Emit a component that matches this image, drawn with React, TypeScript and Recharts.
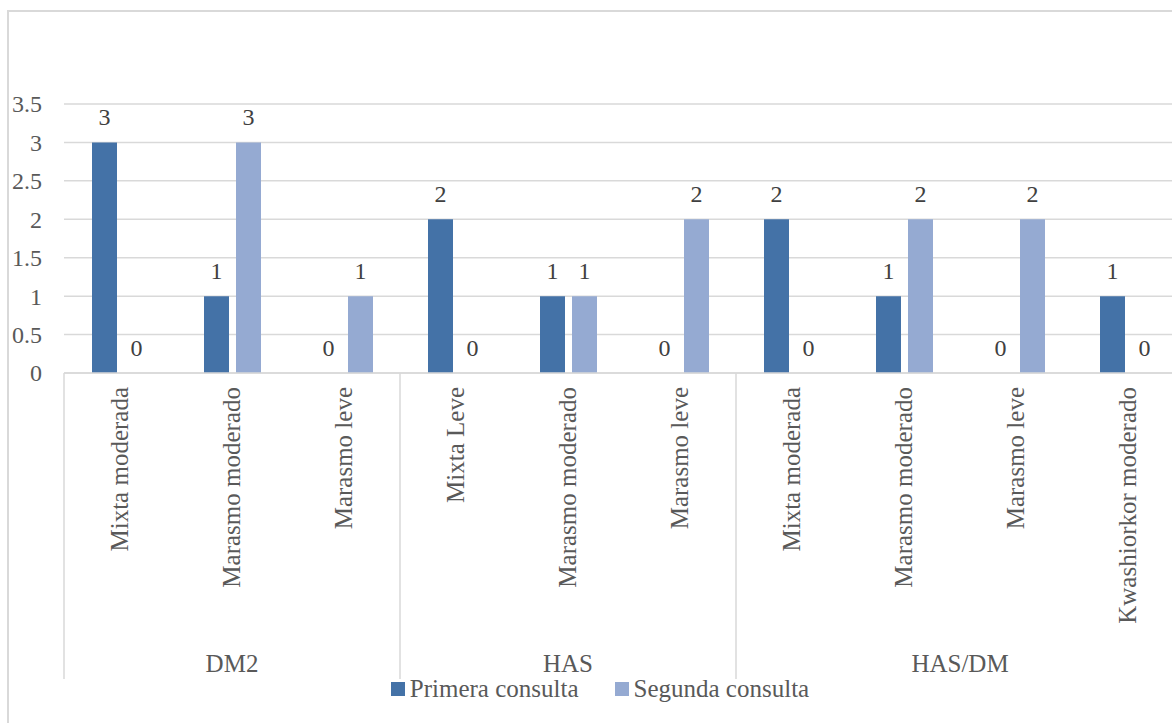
import { BarChart, Bar, XAxis, YAxis, CartesianGrid, Legend, LabelList } from 'recharts';

const categories = [
  'Mixta moderada',
  'Marasmo moderado',
  'Marasmo leve',
  'Mixta Leve',
  'Marasmo moderado',
  'Marasmo leve',
  'Mixta moderada',
  'Marasmo moderado',
  'Marasmo leve',
  'Kwashiorkor moderado',
];
const groupNames = ['DM2', 'HAS', 'HAS/DM'];
const groupSizes = [3, 3, 4];
const primera = [3, 1, 0, 2, 1, 0, 2, 1, 0, 1];
const segunda = [0, 3, 1, 0, 1, 2, 0, 2, 2, 0];
const yTicks = [0, 0.5, 1, 1.5, 2, 2.5, 3, 3.5];

const FONT = '"Liberation Serif", "Times New Roman", serif';
const DARK = '#4472a7';
const LIGHT = '#95aad2';
const GRID = '#d9d9d9';

const CHART_W = 1200;
const CHART_H = 723;
const Y_W = 64;
const M_RIGHT = 16;
const M_TOP = 104;
const AXIS_Y = 373;
const X_AXIS_H = 305;
const BAND = (CHART_W - Y_W - M_RIGHT) / categories.length;

const data = categories.map((c, i) => ({
  key: `${i}-${c}`,
  name: c,
  primera: primera[i],
  segunda: segunda[i],
}));

// first category index of each group
const groupStarts: number[] = [];
groupSizes.reduce((acc, n) => {
  groupStarts.push(acc);
  return acc + n;
}, 0);

function CategoryTick(props: any) {
  const { x, payload } = props;
  const i = payload.index;
  const items: any[] = [];
  items.push(
    <g key="lbl" transform={`translate(${x},${AXIS_Y + 14})`}>
      <text
        transform="rotate(-90)"
        textAnchor="end"
        dy="0.33em"
        fontFamily={FONT}
        fontSize={25}
        fill="#595959"
      >
        {categories[i]}
      </text>
    </g>
  );
  const g = groupStarts.indexOf(i);
  if (g >= 0) {
    const left = x - BAND / 2;
    items.push(
      <line key="sep" x1={left} x2={left} y1={AXIS_Y} y2={AXIS_Y + 306} stroke={GRID} strokeWidth={1.5} />
    );
    const mid = left + (groupSizes[g] * BAND) / 2;
    items.push(
      <text key="grp" x={mid} y={AXIS_Y + 299} textAnchor="middle" fontFamily={FONT} fontSize={25} fill="#595959">
        {groupNames[g]}
      </text>
    );
  }
  return <g>{items}</g>;
}

function ValueTick(props: any) {
  const { y, payload } = props;
  return (
    <text x={42} y={y} dy="0.35em" textAnchor="end" fontFamily={FONT} fontSize={24} fill="#595959">
      {payload.value}
    </text>
  );
}

function BarValue(props: any) {
  const { x, y, width, height, value } = props;
  const top = Math.min(y, y + (height || 0));
  return (
    <text x={x + width / 2} y={top - 17} textAnchor="middle" fontFamily={FONT} fontSize={24} fill="#404040">
      {value}
    </text>
  );
}

function LegendContent() {
  const entries = [
    { label: 'Primera consulta', color: DARK },
    { label: 'Segunda consulta', color: LIGHT },
  ];
  return (
    <div style={{ display: 'flex', justifyContent: 'center', fontFamily: FONT, fontSize: 25, color: '#595959' }}>
      {entries.map((e, i) => (
        <div key={e.label} style={{ display: 'flex', alignItems: 'center', marginLeft: i ? 36 : 0 }}>
          <span style={{ width: 14, height: 14, background: e.color, marginRight: 5, display: 'inline-block' }} />
          <span>{e.label}</span>
        </div>
      ))}
    </div>
  );
}

export default function App() {
  return (
    <div
      style={{
        position: 'absolute',
        left: 0,
        top: 0,
        width: 1172,
        height: 723,
        overflow: 'hidden',
        background: '#fff',
      }}
    >
      <div
        style={{
          position: 'absolute',
          left: 7,
          top: 10,
          width: 1300,
          height: 900,
          border: `2px solid ${GRID}`,
          boxSizing: 'border-box',
        }}
      />
      <div style={{ position: 'absolute', left: 0, top: 0 }}>
        <BarChart
          width={CHART_W}
          height={CHART_H}
          data={data}
          margin={{ top: M_TOP, right: M_RIGHT, left: 0, bottom: CHART_H - AXIS_Y - X_AXIS_H }}
          barSize={25}
          barGap={7}
        >
          <CartesianGrid vertical={false} stroke={GRID} strokeWidth={1.5} />
          <XAxis
            dataKey="key"
            interval={0}
            height={X_AXIS_H}
            tickLine={false}
            axisLine={{ stroke: GRID, strokeWidth: 1.5 }}
            tick={<CategoryTick />}
          />
          <YAxis
            width={Y_W}
            domain={[0, 3.5]}
            ticks={yTicks}
            axisLine={false}
            tickLine={false}
            tick={<ValueTick />}
          />
          <Legend
            layout="horizontal"
            verticalAlign="middle"
            align="center"
            wrapperStyle={{ top: 675, left: 0, width: CHART_W }}
            content={<LegendContent />}
          />
          <Bar dataKey="primera" name="Primera consulta" fill={DARK} minPointSize={0.01} isAnimationActive={false}>
            <LabelList dataKey="primera" content={<BarValue />} />
          </Bar>
          <Bar dataKey="segunda" name="Segunda consulta" fill={LIGHT} minPointSize={0.01} isAnimationActive={false}>
            <LabelList dataKey="segunda" content={<BarValue />} />
          </Bar>
        </BarChart>
      </div>
    </div>
  );
}
